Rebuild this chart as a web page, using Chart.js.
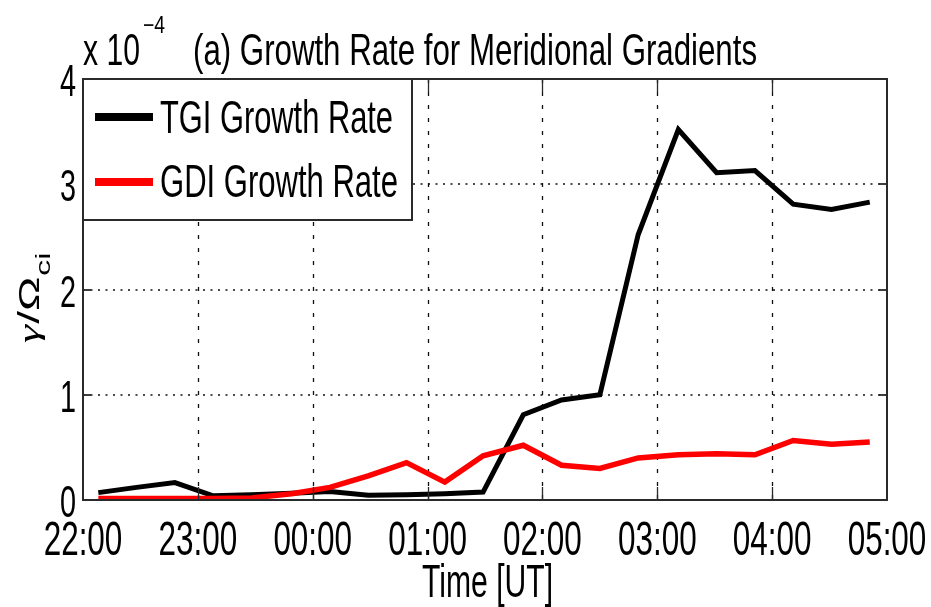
<!DOCTYPE html>
<html><head><meta charset="utf-8">
<script src="https://cdn.jsdelivr.net/npm/chart.js@4.4.1/dist/chart.umd.min.js"></script>
<style>html,body{margin:0;padding:0;background:#fff;}#wrap{width:931px;height:607px;position:relative;}</style>
</head><body><div id="wrap"><canvas id="c" width="931" height="607"></canvas></div>
<script>
// ---- data ----
const times = ["22:08","22:28","22:48","23:08","23:28","23:49","00:09","00:29","00:49","01:09","01:29",
               "01:50","02:10","02:30","02:50","03:11","03:31","03:51","04:11","04:31","04:51"];
const tgiRate = [0.07,0.12,0.165,0.04,0.05,0.065,0.08,0.045,0.05,0.06,0.075,
                 0.81,0.95,1.0,2.52,3.52,3.11,3.13,2.81,2.76,2.83];
const gdiRate = [0.015,0.015,0.015,0.015,0.02,0.06,0.12,0.23,0.355,0.17,0.42,
                 0.52,0.33,0.30,0.40,0.43,0.44,0.43,0.565,0.53,0.55];
const xTickLabels = ["22:00","23:00","00:00","01:00","02:00","03:00","04:00","05:00"];
const yTickLabels = ["0","1","2","3","4"];
const seriesNames = ["TGI Growth Rate","GDI Growth Rate"];
const titleText = "(a) Growth Rate for Meridional Gradients";
const xTitle = "Time [UT]";

const FONT = '"Liberation Sans", Arial, Helvetica, sans-serif';
const SERIF = '"Liberation Serif", "Times New Roman", serif';
const SX = 0.655;

function hoursSince22(s){
  const p = s.split(':').map(Number);
  let h = p[0] + p[1]/60;
  return h >= 22 ? h - 22 : h + 2;
}
function txt(ctx, s, x, y, size, opts){
  opts = opts || {};
  ctx.save();
  ctx.font = size + 'px ' + FONT;
  ctx.textBaseline = 'alphabetic';
  ctx.textAlign = 'left';
  const w = ctx.measureText(s).width;
  const sx = opts.width ? opts.width / w : SX;
  let dx = 0;
  if (opts.align === 'center') dx = -w/2;
  else if (opts.align === 'right') dx = -w;
  ctx.translate(x, y);
  ctx.scale(sx, 1);
  ctx.fillStyle = '#000';
  ctx.fillText(s, dx, 0);
  ctx.restore();
}

const gridPlugin = {
  id: 'gridPlugin',
  beforeDatasetsDraw(chart){
    const ctx = chart.ctx, a = chart.chartArea;
    const xs = chart.scales.x, ys = chart.scales.y;
    ctx.save();
    ctx.strokeStyle = '#111';
    ctx.lineWidth = 1.3;
    ctx.setLineDash([4, 9]);
    for (let i = 1; i < xTickLabels.length - 1; i++){
      const px = Math.round(xs.getPixelForValue(i)) + 0.5;
      ctx.beginPath(); ctx.moveTo(px, a.top); ctx.lineTo(px, a.bottom); ctx.stroke();
    }
    ctx.lineWidth = 1.6;
    ctx.setLineDash([2, 5.5]);
    for (let i = 1; i < yTickLabels.length - 1; i++){
      const py = Math.round(ys.getPixelForValue(i));
      ctx.beginPath(); ctx.moveTo(a.left, py); ctx.lineTo(a.right, py); ctx.stroke();
    }
    ctx.restore();
  },
  afterDraw(chart){
    const ctx = chart.ctx, a = chart.chartArea;
    const xs = chart.scales.x, ys = chart.scales.y;
    ctx.save();
    ctx.strokeStyle = '#2a2a2a';
    ctx.setLineDash([]);
    ctx.lineWidth = 1.3;
    for (let i = 1; i < xTickLabels.length - 1; i++){
      const px = Math.round(xs.getPixelForValue(i)) + 0.5;
      ctx.beginPath(); ctx.moveTo(px, a.bottom); ctx.lineTo(px, a.bottom - 13); ctx.stroke();
      ctx.beginPath(); ctx.moveTo(px, a.top); ctx.lineTo(px, a.top + 13); ctx.stroke();
    }
    ctx.lineWidth = 1.8;
    for (let i = 1; i < yTickLabels.length - 1; i++){
      const py = Math.round(ys.getPixelForValue(i));
      ctx.beginPath(); ctx.moveTo(a.left, py); ctx.lineTo(a.left + 8, py); ctx.stroke();
      ctx.beginPath(); ctx.moveTo(a.right, py); ctx.lineTo(a.right - 8, py); ctx.stroke();
    }
    ctx.lineWidth = 2;
    ctx.strokeRect(a.left, a.top, a.right - a.left, a.bottom - a.top);

    // legend
    const lx0 = a.left, ly0 = a.top, lx1 = 412, ly1 = 220;
    ctx.fillStyle = '#fff';
    ctx.fillRect(lx0, ly0, lx1 - lx0, ly1 - ly0);
    ctx.strokeRect(lx0, ly0, lx1 - lx0, ly1 - ly0);
    const ds = chart.data.datasets;
    const rows = [{y:117, base:133, w:233}, {y:182, base:197, w:238}];
    rows.forEach((r, i) => {
      ctx.strokeStyle = ds[i].borderColor;
      ctx.lineWidth = 8;
      ctx.beginPath(); ctx.moveTo(95, r.y); ctx.lineTo(153, r.y); ctx.stroke();
      txt(ctx, ds[i].label, 160, r.base, 47, {width: r.w});
    });
    ctx.restore();

    xTickLabels.forEach((s, i) => {
      txt(ctx, s, xs.getPixelForValue(i), 555, 48, {align:'center'});
    });
    yTickLabels.forEach((s, i) => {
      txt(ctx, s, 76, ys.getPixelForValue(i) + 17, 44, {align:'right'});
    });

    txt(ctx, titleText, 193, 65, 45, {width: 564});
    txt(ctx, 'x 10', 83, 65, 45, {width: 57});
    txt(ctx, '\u22124', 143, 33, 24, {width: 22});

    txt(ctx, xTitle, 422, 597, 47, {width: 131});

    // y title (rotated, with subscript)
    ctx.save();
    ctx.translate(39, 343);
    ctx.scale(SX, 1);
    ctx.rotate(-Math.PI/2);
    ctx.fillStyle = '#000';
    ctx.textBaseline = 'alphabetic';
    ctx.font = 'italic 46px ' + SERIF;
    const g = '\u03B3';
    ctx.fillText(g, 0, 0);
    let off = ctx.measureText(g).width + 1;
    ctx.font = '46px ' + FONT;
    const rest = '/\u03A9';
    ctx.fillText(rest, off, 0);
    off += ctx.measureText(rest).width;
    ctx.font = '32px ' + FONT;
    ctx.fillText('ci', off + 1, 17);
    ctx.restore();
  }
};

const chart = new Chart(document.getElementById('c'), {
  type: 'line',
  data: {
    datasets: [
      { label: seriesNames[0], data: times.map((t, i) => ({x: hoursSince22(t), y: tgiRate[i]})),
        borderColor: '#000000', borderWidth: 5, pointRadius: 0, tension: 0, fill: false, order: 1 },
      { label: seriesNames[1], data: times.map((t, i) => ({x: hoursSince22(t), y: gdiRate[i]})),
        borderColor: '#ff0000', borderWidth: 5.5, pointRadius: 0, tension: 0, fill: false, order: 0 }
    ]
  },
  options: {
    responsive: false,
    animation: false,
    layout: { padding: { left: 83, top: 79, right: 44, bottom: 107 } },
    plugins: { legend: { display: false }, tooltip: { enabled: false }, title: { display: false } },
    scales: {
      x: { type: 'linear', min: 0, max: 7, display: false },
      y: { type: 'linear', min: 0, max: 4, display: false }
    }
  },
  plugins: [gridPlugin]
});
</script>
</body></html>
